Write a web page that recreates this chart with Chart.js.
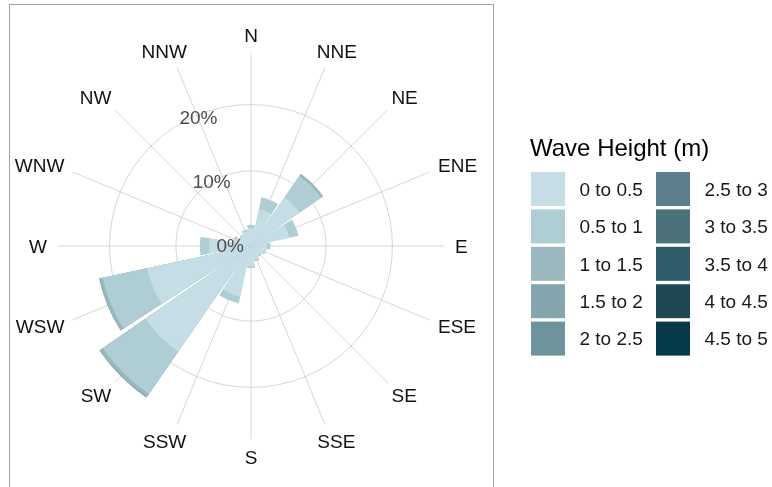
<!DOCTYPE html>
<html>
<head>
<meta charset="utf-8">
<script src="https://cdn.jsdelivr.net/npm/chart.js@4.4.1/dist/chart.umd.min.js"></script>
<style>
  html, body { margin: 0; padding: 0; background: #fff; }
  #wrap { position: relative; width: 772px; height: 487px; overflow: hidden; }
  canvas { display: block; }
</style>
</head>
<body>
<div id="wrap"><canvas id="rose" width="772" height="487"></canvas></div>
<script>
// compass sectors, clockwise from north
const directions = ["N", "NNE", "NE", "ENE", "E", "ESE", "SE", "SSE",
  "S", "SSW", "SW", "WSW", "W", "WNW", "NW", "NNW"];

const binLabels = ["0 to 0.5", "0.5 to 1", "1 to 1.5", "1.5 to 2", "2 to 2.5",
  "2.5 to 3", "3 to 3.5", "3.5 to 4", "4 to 4.5", "4.5 to 5"];
const binColors = ["#C5DEE6", "#AFCDD4", "#9AB7C0", "#84A5AD", "#6D949D",
  "#5C7F8D", "#4B717A", "#2F5D6A", "#1E4853", "#063A48"];

// frequency (%) per direction for each wave height bin
const h0to05 = [1.35, 4.4, 7.6, 4.6, 1.1, 0.8, 0.5, 0.9, 1.8, 6.5, 18.0, 14.7, 5.0, 1.2, 0.6, 1.0];
const h05to1 = [0.5, 1.8, 3.9, 1.4, 0.5, 0.2, 0.17, 0.2, 0.2, 1.0, 7.8, 6.85, 1.4, 0.25, 0.2, 0.25];
const h1to15 = [0, 0, 0.4, 0, 0, 0, 0, 0, 0, 0, 0.5, 0.45, 0, 0, 0, 0];
const h15to2 = [0, 0, 0, 0, 0, 0, 0, 0, 0, 0, 0.15, 0.1, 0, 0, 0, 0];
const h2to25 = [0, 0, 0, 0, 0, 0, 0, 0, 0, 0, 0, 0, 0, 0, 0, 0];
const h25to3 = [0, 0, 0, 0, 0, 0, 0, 0, 0, 0, 0, 0, 0, 0, 0, 0];
const h3to35 = [0, 0, 0, 0, 0, 0, 0, 0, 0, 0, 0, 0, 0, 0, 0, 0];
const h35to4 = [0, 0, 0, 0, 0, 0, 0, 0, 0, 0, 0, 0, 0, 0, 0, 0];
const h4to45 = [0, 0, 0, 0, 0, 0, 0, 0, 0, 0, 0, 0, 0, 0, 0, 0];
const h45to5 = [0, 0, 0, 0, 0, 0, 0, 0, 0, 0, 0, 0, 0, 0, 0, 0];
const bins = [h0to05, h05to1, h1to15, h15to2, h2to25, h25to3, h3to35, h35to4, h4to45, h45to5];

const gridSteps = [0, 10, 20];
const R_MIN = -1.32, R_MAX = 27.77;   // radial limits incl. padding

const BAR = 20.8, GAP = 1.7;   // degrees

// each sector is centred on its spoke: split N in two halves and put a thin gap slice in between
const sliceAngles = [BAR / 2];
for (let i = 1; i < directions.length; i++) sliceAngles.push(GAP, BAR);
sliceAngles.push(GAP, BAR / 2);

function expand(vals) {
  const out = [vals[0]];
  for (let i = 1; i < vals.length; i++) out.push(R_MIN, vals[i]);
  out.push(R_MIN, vals[0]);
  return out;
}
function dirIndex(slice) {
  if (slice === sliceAngles.length - 1) return 0;
  return slice % 2 === 0 ? slice / 2 : -1;
}

// cumulative totals -> one overlapping layer per bin, smallest on top
const datasets = [];
let running = directions.map(() => 0);
bins.forEach((bin, k) => {
  running = running.map((v, i) => v + bin[i]);
  datasets.push({
    label: binLabels[k],
    data: expand(running),
    angle: sliceAngles,
    borderWidth: 0,
    backgroundColor: (ctx) => {
      const d = dirIndex(ctx.dataIndex);
      if (d < 0 || bin[d] <= 0) return "rgba(0,0,0,0)";
      return binColors[k];
    },
  });
});

const FONT = '"Liberation Sans", Arial, Helvetica, sans-serif';
const CAP = 13.6;

const roseDecor = {
  id: "roseDecor",
  afterDraw(chart) {
    const ctx = chart.ctx;
    const r = chart.scales.r;
    const cx = r.xCenter, cy = r.yCenter;
    ctx.save();

    // panel frame
    ctx.strokeStyle = "#a0a0a0";
    ctx.lineWidth = 1;
    ctx.strokeRect(9.5, 4.5, 484, 520);

    ctx.textAlign = "left";
    ctx.textBaseline = "alphabetic";

    // compass labels
    ctx.font = "19px " + FONT;
    ctx.fillStyle = "#111";
    const R = r.drawingArea + 11;
    directions.forEach((lab, i) => {
      const th = r.getIndexAngle(i);
      const s = Math.sin(th), c = Math.cos(th);
      const w = ctx.measureText(lab).width;
      const ax = cx + R * s, ay = cy - R * c;
      ctx.fillText(lab, ax - (0.5 - s / 2) * w, ay + (0.5 - c / 2) * CAP);
    });

    // radial tick labels, right-aligned along a ray tilted slightly left of north
    ctx.fillStyle = "#4d4d4d";
    const r0 = r.getDistanceFromCenterForValue(0);
    gridSteps.forEach((v) => {
      const d = r.getDistanceFromCenterForValue(v) - r0;
      const txt = v + "%";
      const w = ctx.measureText(txt).width;
      const xr = cx - 7 - 0.2 * d;
      const ym = cy - 0.5 - 0.97 * d;
      ctx.fillText(txt, xr - w, ym + CAP / 2);
    });

    // legend
    ctx.fillStyle = "#000";
    ctx.font = "24px " + FONT;
    ctx.fillText("Wave Height (m)", 530, 156);
    ctx.font = "19px " + FONT;
    binLabels.forEach((lab, k) => {
      const col = Math.floor(k / 5), row = k % 5;
      const x = 531 + col * 125;
      const y = 172 + row * 37.4;
      ctx.fillStyle = binColors[k];
      ctx.fillRect(x, y, 34, 34);
      ctx.fillStyle = "#1a1a1a";
      ctx.fillText(lab, x + 48.5, y + 17 + CAP / 2);
    });
    ctx.restore();
  },
};

new Chart(document.getElementById("rose"), {
  type: "polarArea",
  data: { labels: directions, datasets },
  options: {
    responsive: false,
    animation: false,
    events: [],
    layout: { padding: { left: 58, top: 53, right: 328, bottom: 48 } },
    plugins: { legend: { display: false }, tooltip: { enabled: false } },
    scales: {
      r: {
        min: R_MIN,
        max: R_MAX,
        startAngle: 0,
        afterBuildTicks: (scale) => { scale.ticks = gridSteps.map((v) => ({ value: v })); },
        ticks: { display: false },
        pointLabels: { display: false },
        grid: { circular: true, color: "#cccccc", lineWidth: 0.8 },
        angleLines: { display: true, color: "#cccccc", lineWidth: 0.8 },
      },
    },
  },
  plugins: [roseDecor],
});
</script>
</body>
</html>
